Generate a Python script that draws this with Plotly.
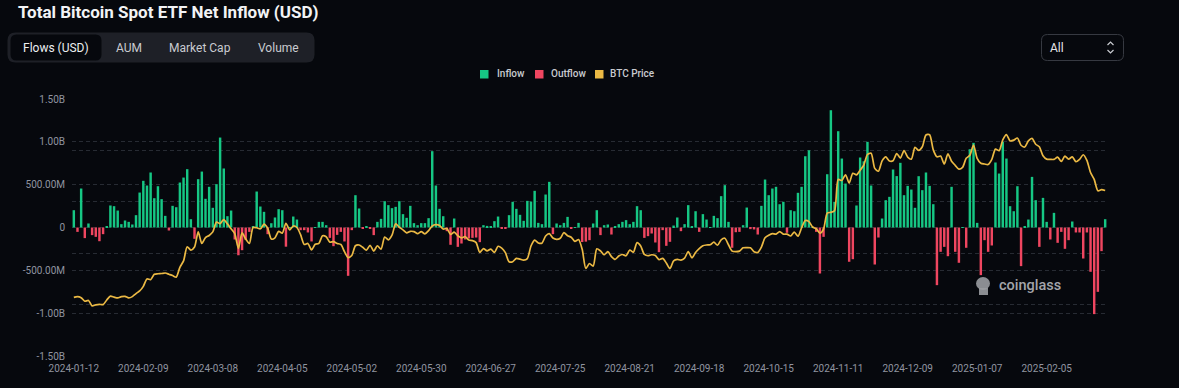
import pandas as pd
import plotly.graph_objects as go

# ---------------- data ----------------
START, END = "2024-01-12", "2025-02-28"
MARKET_HOLIDAYS = ["2024-01-15", "2024-02-19", "2024-03-29", "2024-05-27", "2024-06-19",
                   "2024-07-04", "2024-09-02", "2024-11-28", "2024-12-25", "2025-01-01",
                   "2025-01-09", "2025-01-20", "2025-02-17"]
dates = [d.strftime("%Y-%m-%d") for d in pd.bdate_range(START, END)
         if d.strftime("%Y-%m-%d") not in MARKET_HOLIDAYS]

# daily net flow, million USD
flows_musd = [
    202, -51, 455, -124, 47, -89, -109, -160, -78, 16,
    257, 249, 198, 39, 82, 66, 35, 144, 408, 545,
    490, 642, 342, 482, 331, 136, -35, 253, 237, 525,
    583, 681, 97, -132, 564, 653, 335, 475, 230, 506,
    1050, 689, 132, 198, -140, -324, -265, -145, -51, 16,
    420, 245, 183, -78, 50, 117, 214, 202, -224, 2,
    128, 93, -31, -31, -58, -163, 2, 66, 66, 27,
    -121, -218, -86, -51, -163, -564, -31, 377, 222, -12,
    16, -8, -89, 66, 101, 307, 261, 226, 241, 307,
    156, 113, 253, 51, 27, 51, 51, 109, 891, 490,
    218, 132, -43, -202, 105, -226, -187, -140, -128, -121,
    -117, -171, 27, 19, 16, 74, 128, -8, -12, 144,
    300, 218, 148, 78, 311, 303, 428, 54, 39, 385,
    533, -78, 47, 27, 54, 124, -12, 4, 54, -170,
    -165, -148, 47, 202, -89, 27, 35, -82, 8, 39,
    66, 86, 39, 66, 249, 202, -121, -101, -70, -175,
    -288, -31, -214, -167, 23, 117, -43, 39, 261, 12,
    190, -51, 156, 93, 5, 136, 109, 366, 494, 66,
    -237, -55, -51, 27, 233, -19, -23, -82, 253, 560,
    377, 455, 475, 272, 300, -62, 202, 190, 405, 475,
    832, 902, 2, -51, -537, -109, 622, 1369, 300, 1124,
    805, 513, -400, -370, 257, 817, 773, 1000, 490, -432,
    -117, 105, 319, 358, 677, 600, 755, 377, 486, 443,
    230, 599, 436, 642, 486, 272, -673, -284, -226, -335,
    475, -284, -412, 5, -237, 914, 988, 54, -556, -148,
    -284, -210, 759, 630, 1000, 805, 249, 190, 482, -451,
    16, 93, 591, 319, -226, 346, 66, -140, 171, -179,
    -51, -249, -148, 70, -58, -58, -362, -58, -517, -1011,
    -751, -276, 97,
]

# BTC price, thousand USD
btc_price_k = [
    42.8, 43.1, 42.7, 41.3, 41.6, 39.5, 39.9, 40.1, 40.0, 41.8,
    43.3, 42.9, 42.6, 43.1, 43.2, 42.6, 43.1, 44.3, 45.3, 47.1,
    50.0, 49.7, 51.8, 52.0, 52.1, 52.3, 51.8, 51.3, 50.7, 54.5,
    57.0, 62.5, 61.2, 62.4, 68.3, 63.8, 66.1, 66.9, 68.3, 72.1,
    71.5, 73.1, 71.4, 69.5, 67.6, 61.9, 67.9, 65.5, 63.8, 70.0,
    69.9, 69.5, 71.3, 69.7, 65.5, 66.0, 68.5, 67.8, 71.6, 69.1,
    70.6, 70.0, 67.2, 63.4, 63.8, 61.3, 63.5, 63.8, 66.8, 66.4,
    64.3, 64.5, 63.8, 63.4, 60.6, 58.3, 59.1, 62.9, 63.2, 62.3,
    61.2, 63.1, 60.8, 62.9, 61.6, 66.3, 65.2, 67.0, 71.4, 70.1,
    69.1, 67.9, 68.5, 68.4, 67.6, 68.4, 67.5, 68.8, 70.6, 71.1,
    70.8, 69.4, 69.6, 67.3, 68.2, 66.8, 66.0, 66.5, 65.1, 64.9,
    64.1, 60.3, 61.8, 60.9, 61.6, 60.3, 62.7, 62.0, 60.2, 56.7,
    56.7, 58.0, 57.7, 57.3, 57.9, 62.8, 65.1, 64.0, 63.9, 66.7,
    67.6, 65.9, 65.4, 65.8, 68.0, 66.8, 66.2, 64.6, 65.3, 61.5,
    54.1, 56.0, 55.0, 61.7, 60.9, 59.4, 60.6, 58.7, 57.6, 58.9,
    59.5, 59.0, 61.2, 60.4, 64.1, 62.8, 59.5, 59.0, 59.4, 59.1,
    57.5, 58.0, 56.2, 54.0, 57.0, 57.6, 57.3, 58.1, 60.6, 58.2,
    60.3, 61.8, 62.9, 63.2, 63.3, 64.3, 63.1, 65.2, 65.8, 63.3,
    60.8, 60.6, 60.8, 62.1, 62.2, 62.1, 60.6, 60.3, 62.4, 66.0,
    67.0, 67.6, 67.4, 68.4, 67.4, 67.4, 66.7, 68.2, 66.6, 69.9,
    72.7, 72.3, 70.2, 69.5, 67.8, 69.4, 75.6, 75.9, 76.5, 88.7,
    88.3, 90.5, 87.3, 91.1, 90.5, 92.3, 94.3, 98.4, 98.9, 93.0,
    91.9, 95.9, 97.5, 95.9, 96.0, 98.8, 97.0, 99.9, 97.4, 96.6,
    101.2, 100.0, 101.4, 106.0, 106.1, 100.2, 97.5, 97.8, 94.7, 98.7,
    95.8, 94.2, 92.7, 93.4, 96.9, 98.1, 102.1, 96.9, 95.0, 94.7,
    94.5, 96.5, 100.5, 99.9, 104.1, 106.1, 103.7, 104.0, 104.8, 102.0,
    101.3, 103.7, 104.7, 102.4, 101.4, 97.9, 96.6, 96.5, 96.5, 97.4,
    95.7, 97.8, 96.6, 97.5, 95.6, 96.5, 98.3, 96.1, 91.4, 88.7,
    84.3, 84.7, 84.4,
]

assert len(dates) == len(flows_musd) == len(btc_price_k), (len(dates), len(flows_musd), len(btc_price_k))

flow_tick_vals = [1.5e9, 1.0e9, 5.0e8, 0, -5.0e8, -1.0e9, -1.5e9]
flow_tick_text = ["1.50B", "1.00B", "500.00M", "0", "-500.00M", "-1.00B", "-1.50B"]
x_tick_dates = dates[::19]
tab_labels = ["Flows (USD)", "AUM", "Market Cap", "Volume"]
series_names = ["Inflow", "Outflow", "BTC Price"]

# ---------------- style ----------------
BG = "#06080d"
GREEN = "#16c784"
RED = "#ef4660"
GOLD = "#ebb944"
GRID = "#272b33"
TICK = "#9094a0"
FONT = "Roboto"

W, H = 1179, 388
ML, MR, MT, MB = 72, 72, 99, 32
PW, PH = W - ML - MR, H - MT - MB


def px(x):
    return (x - ML) / PW


def py(y):
    return (H - MB - y) / PH


inflow = [v * 1e6 if v > 0 else None for v in flows_musd]
outflow = [v * 1e6 if v < 0 else None for v in flows_musd]
price = [p * 1000 for p in btc_price_k]

fig = go.Figure()
fig.add_trace(go.Bar(x=dates, y=inflow, name=series_names[0], marker=dict(color=GREEN, line_width=0)))
fig.add_trace(go.Bar(x=dates, y=outflow, name=series_names[1], marker=dict(color=RED, line_width=0)))
fig.add_trace(go.Scatter(x=dates, y=price, name=series_names[2], yaxis="y2", mode="lines",
                         line=dict(color=GOLD, width=1.7, shape="spline", smoothing=0.7)))

fig.update_layout(
    width=W, height=H,
    margin=dict(l=ML, r=MR, t=MT, b=MB, pad=0),
    paper_bgcolor=BG, plot_bgcolor=BG,
    font=dict(family=FONT, color=TICK, size=10),
    barmode="relative", bargap=0.33,
    showlegend=False,
    xaxis=dict(type="category", tickmode="array", tickvals=x_tick_dates, ticktext=x_tick_dates,
               showgrid=False, zeroline=False, showline=False, ticks="outside", ticklen=3,
               tickcolor="rgba(0,0,0,0)", tickfont=dict(size=10, color=TICK, family=FONT),
               range=[-0.5, len(dates) - 0.5]),
    yaxis=dict(range=[-1.5e9, 1.5e9], tickmode="array", tickvals=flow_tick_vals,
               ticktext=flow_tick_text, showgrid=True, gridcolor=GRID, griddash="4px,3px",
               gridwidth=1, zeroline=False, showline=False, ticks="outside", ticklen=4,
               tickcolor="rgba(0,0,0,0)", tickfont=dict(size=10, color=TICK, family=FONT)),
    yaxis2=dict(overlaying="y", side="right", range=[20000, 120000], tick0=20000, dtick=20000,
                showticklabels=False, showgrid=True, gridcolor=GRID, griddash="4px,3px",
                zeroline=False, showline=False, ticks=""),
)


def rrect(x0, y0, x1, y1, r):
    # rounded rectangle path in pixel coordinates converted to paper
    return (f"M{px(x0 + r)},{py(y0)} L{px(x1 - r)},{py(y0)} Q{px(x1)},{py(y0)} {px(x1)},{py(y0 + r)} "
            f"L{px(x1)},{py(y1 - r)} Q{px(x1)},{py(y1)} {px(x1 - r)},{py(y1)} "
            f"L{px(x0 + r)},{py(y1)} Q{px(x0)},{py(y1)} {px(x0)},{py(y1 - r)} "
            f"L{px(x0)},{py(y0 + r)} Q{px(x0)},{py(y0)} {px(x0 + r)},{py(y0)} Z")


shapes = []
# tab container + selected tab
shapes.append(dict(type="path", xref="paper", yref="paper", path=rrect(7.5, 32.5, 314.5, 62.5, 8),
                   fillcolor="#1e2027", line=dict(width=0), layer="above"))
shapes.append(dict(type="path", xref="paper", yref="paper", path=rrect(10.5, 34.5, 101.5, 60.5, 6),
                   fillcolor=BG, line=dict(width=0), layer="above"))
# dropdown
shapes.append(dict(type="path", xref="paper", yref="paper", path=rrect(1041.5, 34.5, 1123.5, 60.5, 6),
                   fillcolor="rgba(0,0,0,0)", line=dict(color="#363941", width=1), layer="above"))
shapes.append(dict(type="path", xref="paper", yref="paper",
                   path=f"M{px(1107.5)},{py(45)} L{px(1110.5)},{py(42)} L{px(1113.5)},{py(45)}",
                   line=dict(color="#c9cbd0", width=1.2), layer="above"))
shapes.append(dict(type="path", xref="paper", yref="paper",
                   path=f"M{px(1107.5)},{py(50)} L{px(1110.5)},{py(53)} L{px(1113.5)},{py(50)}",
                   line=dict(color="#c9cbd0", width=1.2), layer="above"))
# watermark logo blob
shapes.append(dict(type="circle", xref="paper", yref="paper", x0=px(976), x1=px(990), y0=py(290), y1=py(277),
                   fillcolor="#9a9ca1", line=dict(width=0), layer="above", opacity=0.9))
shapes.append(dict(type="rect", xref="paper", yref="paper", x0=px(979), x1=px(988), y0=py(295), y1=py(288),
                   fillcolor="#9a9ca1", line=dict(width=0), layer="above", opacity=0.9))

annotations = [
    dict(text="<b>Total Bitcoin Spot ETF Net Inflow (USD)</b>", x=px(16), y=py(11.5), xref="paper",
         yref="paper", xanchor="left", yanchor="middle", showarrow=False,
         font=dict(family=FONT, size=17, color="#f2f3f5")),
    dict(text="All", x=px(1048), y=py(47.5), xref="paper", yref="paper", xanchor="left",
         yanchor="middle", showarrow=False, font=dict(family=FONT, size=12, color="#e6e7ea")),
    dict(text="coinglass", x=px(997), y=py(285), xref="paper", yref="paper", xanchor="left",
         yanchor="middle", showarrow=False, font=dict(family=FONT, size=14.5, color="#a3a5aa", weight=500)),
]
for label, cx, col in zip(tab_labels, [56, 129, 200, 278], ["#eceef0", "#c9cbd0", "#c9cbd0", "#c9cbd0"]):
    annotations.append(dict(text=label, x=px(cx), y=py(47.5), xref="paper", yref="paper",
                            xanchor="center", yanchor="middle", showarrow=False,
                            font=dict(family=FONT, size=12, color=col)))

# legend: colour swatch + label for each series
for name, col, sx, tx in zip(series_names, [GREEN, RED, GOLD], [480, 535, 595], [495, 549, 608]):
    shapes.append(dict(type="rect", xref="paper", yref="paper", x0=px(sx), x1=px(sx + 8.5),
                       y0=py(78.5), y1=py(70), fillcolor=col, line=dict(width=0), layer="above"))
    annotations.append(dict(text=name, x=px(tx), y=py(74), xref="paper", yref="paper",
                            xanchor="left", yanchor="middle", showarrow=False,
                            font=dict(family=FONT, size=10, color="#c9cbd0", weight=500)))

fig.update_layout(shapes=shapes, annotations=annotations)

fig.write_html("out.html", config={"displayModeBar": False})

# remove the default page margin so the figure sits at the window origin
with open("out.html", encoding="utf-8") as f:
    html = f.read()
html = html.replace("<head>", "<head><style>html,body{margin:0;padding:0;overflow:hidden;background:%s;}</style>" % BG, 1)
with open("out.html", "w", encoding="utf-8") as f:
    f.write(html)
